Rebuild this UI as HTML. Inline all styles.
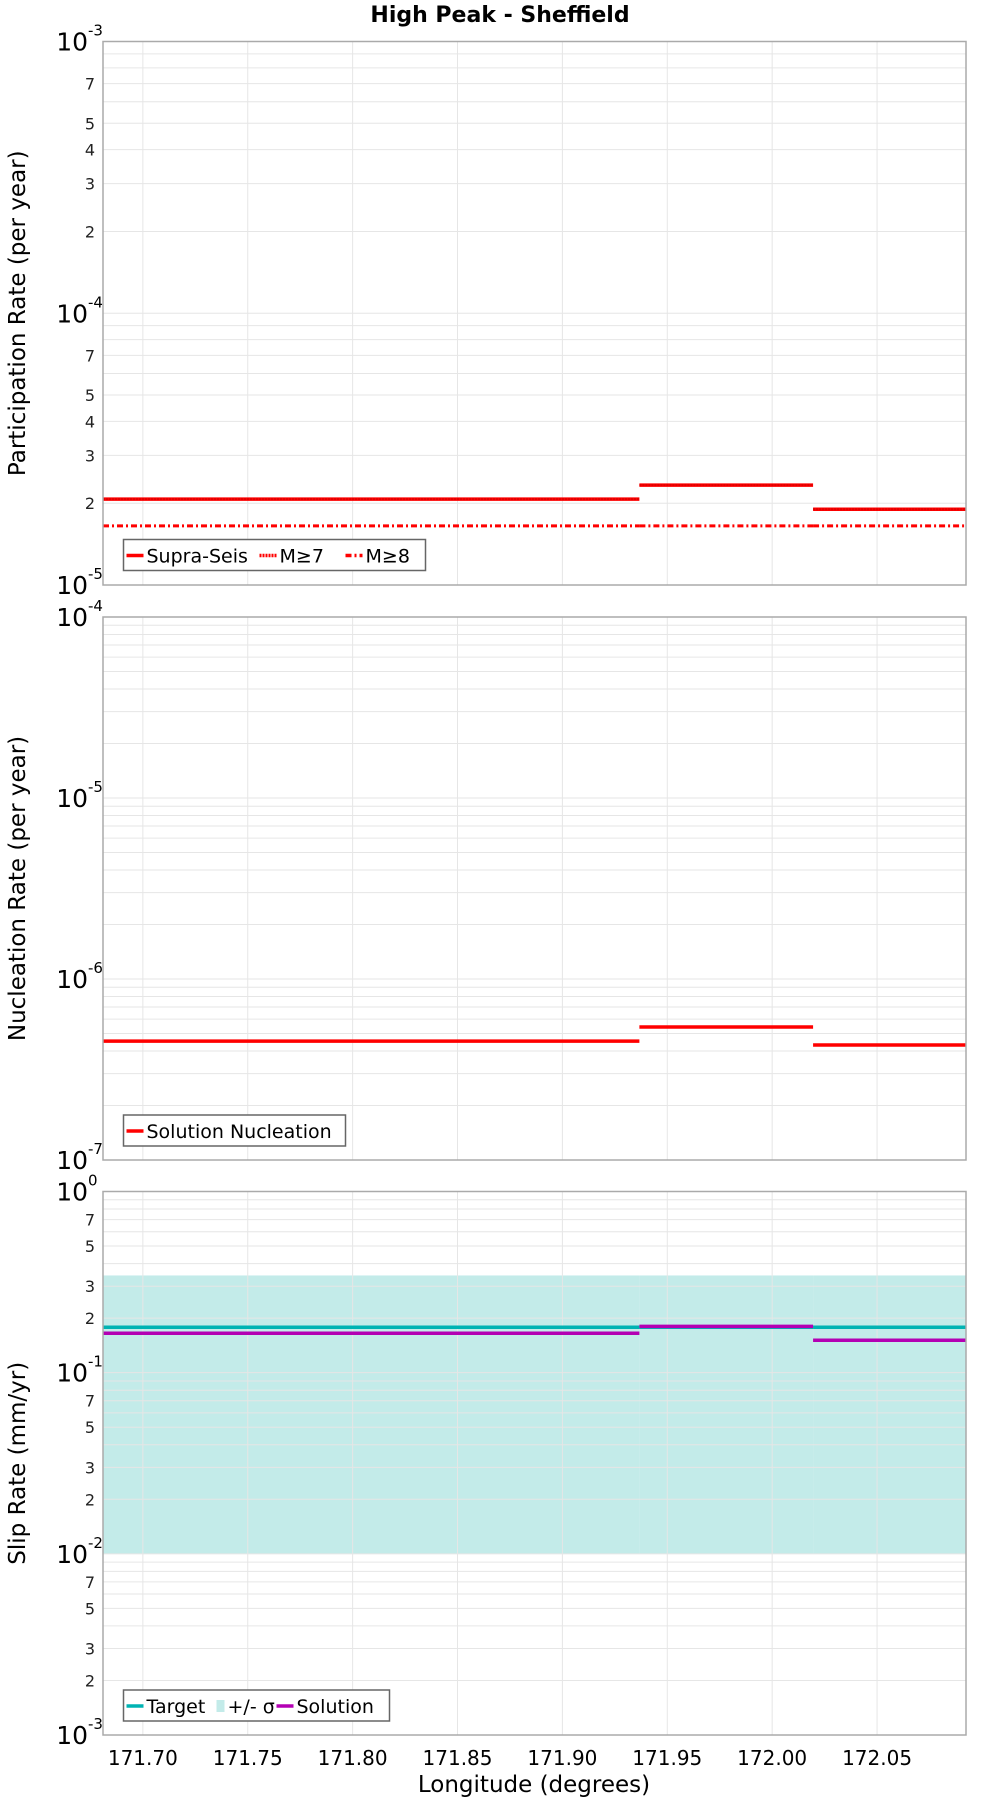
<!DOCTYPE html>
<html><head><meta charset="utf-8"><style>
body{margin:0;background:#fff;}
svg{display:block;font-family:"DejaVu Sans","Liberation Sans",sans-serif;}
</style></head><body>
<svg id="chart" width="1000" height="1800" viewBox="0 0 1000 1800" xmlns="http://www.w3.org/2000/svg">
<text x="500" y="22" text-anchor="middle" font-size="22" font-weight="bold" font-family="DejaVu Sans, sans-serif">High Peak - Sheffield</text>
<text x="534" y="1792" text-anchor="middle" font-size="23">Longitude (degrees)</text>
</svg>
<script>
// ---- data ----
const xTicks = [171.70, 171.75, 171.80, 171.85, 171.90, 171.95, 172.00, 172.05];
const xTickLabels = ["171.70","171.75","171.80","171.85","171.90","171.95","172.00","172.05"];
const segStarts = [171.681, 171.9367, 172.0195];
const segEnds = [171.9367, 172.0195, 172.0924];
const supraSeis = [2.07e-5, 2.33e-5, 1.90e-5];
const m7 = [2.07e-5, 2.33e-5, 1.90e-5];
const m8 = [1.65e-5, 1.65e-5, 1.65e-5];
const nucleation = [4.54e-7, 5.43e-7, 4.32e-7];
const slipTarget = [0.178, 0.178, 0.178];
const slipSolution = [0.165, 0.18, 0.151];
const sigmaLow = [0.01, 0.01, 0.01];
const sigmaHigh = [0.344, 0.344, 0.344];

const svg = document.getElementById('chart');
const NS = 'http://www.w3.org/2000/svg';
const L = 103, R = 966, XMIN = 171.681, XMAX = 172.0924;
function xs(v){ return L + (v - XMIN) / (XMAX - XMIN) * (R - L); }
function mk(tag, attrs, parent){ const e = document.createElementNS(NS, tag); for (const k in attrs) e.setAttribute(k, attrs[k]); (parent||svg).appendChild(e); return e; }

const panels = [
 {name:'participation', top:41.5, bot:585, dMax:-3, dMin:-5, minorLabels:[2,3,4,5,7], title:'Participation Rate (per year)'},
 {name:'nucleation', top:617, bot:1160, dMax:-4, dMin:-7, minorLabels:[], title:'Nucleation Rate (per year)'},
 {name:'slip-rate', top:1191.5, bot:1735, dMax:0, dMin:-3, minorLabels:[2,3,5,7], title:'Slip Rate (mm/yr)'}
];
function ysF(p){ return v => p.top + (p.dMax - Math.log10(v)) / (p.dMax - p.dMin) * (p.bot - p.top); }

panels.forEach((p, pi) => {
  const ys = ysF(p);
  const g = mk('g', {});
  
  
  mk('rect', {x:L, y:p.top, width:R-L, height:p.bot-p.top, fill:'#fff'}, g);
  if (pi === 2) {
    for (let i = 0; i < segStarts.length; i++) {
      const b = mk('rect', {x:xs(segStarts[i]), y:ys(sigmaHigh[i]), width:xs(segEnds[i])-xs(segStarts[i]), height:ys(sigmaLow[i])-ys(sigmaHigh[i]), fill:'#c3ebe9'}, g);
      
      
    }
  }
  for (let d = p.dMin; d < p.dMax; d++) {
    for (let m = 1; m < 10; m++) {
      const v = m * Math.pow(10, d);
      const y = ys(v);
      if (m > 1) mk('line', {x1:L, x2:R, y1:y, y2:y, stroke:'#e6e6e6', 'stroke-width':1}, g);
      if (p.minorLabels.includes(m)) {
        const t = mk('text', {x:95, y:y+6, 'text-anchor':'end', 'font-size':16, fill:'#222'}, g);
        t.textContent = m;
        
        
      }
    }
  }
  for (let d = p.dMin; d <= p.dMax; d++) {
    const y = ys(Math.pow(10, d));
    mk('line', {x1:L, x2:R, y1:y, y2:y, stroke:'#e6e6e6', 'stroke-width':1}, g);
    const t = mk('text', {x:88, y:y+9, 'text-anchor':'end', 'font-size':25}, g);
    t.textContent = '10';
    
    
    const s = mk('text', {x:88, y:y-6, 'font-size':15}, g);
    s.textContent = String(d);
    
    
  }
  xTicks.forEach(v => mk('line', {x1:xs(v), x2:xs(v), y1:p.top, y2:p.bot, stroke:'#e6e6e6', 'stroke-width':1}, g));
  const cy = (p.top + p.bot) / 2;
  const at = mk('text', {x:0, y:0, transform:`translate(25,${cy}) rotate(-90)`, 'text-anchor':'middle', 'font-size':23}, g);
  at.textContent = p.title;
  
  
});

function drawSeg(p, vals, color, dash, name, width){
  const ys = ysF(p);
  for (let i = 0; i < vals.length; i++) {
    const a = {x1:xs(segStarts[i]), x2:xs(segEnds[i]), y1:ys(vals[i]), y2:ys(vals[i]), stroke:color, 'stroke-width':width||3.5};
    if (dash) a['stroke-dasharray'] = dash;
    const l = mk('line', a);
    
    
  }
}
drawSeg(panels[0], supraSeis, '#ff0000', null, 'supra-seis');
drawSeg(panels[0], m7, '#e00000', '2,1', 'm7', 2);
drawSeg(panels[0], m8, '#ff0000', '6,3,2,3', 'm8', 3);
drawSeg(panels[1], nucleation, '#ff0000', null, 'solution-nucleation');
drawSeg(panels[2], slipTarget, '#00b3b3', null, 'target');
drawSeg(panels[2], slipSolution, '#b300b3', null, 'solution');

panels.forEach(p => mk('rect', {x:L, y:p.top, width:R-L, height:p.bot-p.top, fill:'none', stroke:'#aaa', 'stroke-width':1.5}));

xTicks.forEach((v, i) => {
  const t = mk('text', {x:xs(v), y:1765, 'text-anchor':'middle', 'font-size':20});
  t.textContent = xTickLabels[i];
  
  
});

function legend(x, y, w, items, name){
  const g = mk('g', {});
  
  
  mk('rect', {x:x, y:y, width:w, height:31, fill:'#fff', stroke:'#666', 'stroke-width':1.5}, g);
  let cx = x + 3;
  items.forEach(it => {
    if (it.rect) mk('rect', {x:cx+2, y:y+10, width:8, height:12, fill:it.color}, g);
    else {
      const a = {x1:cx, x2:cx+17, y1:y+16, y2:y+16, stroke:it.color, 'stroke-width':3.5};
      if (it.dash) a['stroke-dasharray'] = it.dash;
      mk('line', a, g);
    }
    const t = mk('text', {x:cx + (it.rect?13:20), y:y+23, 'font-size':19}, g);
    t.textContent = it.label;
    
    
    cx += it.w;
  });
}
legend(123.5, 539.5, 302, [{label:'Supra-Seis', color:'#ff0000', w:133},{label:'M≥7', color:'#ff0000', dash:'2,1', w:86},{label:'M≥8', color:'#ff0000', dash:'6,3,2,3', w:80}], 'participation-legend');
legend(123.5, 1115, 222, [{label:'Solution Nucleation', color:'#ff0000', w:220}], 'nucleation-legend');
legend(123.5, 1690, 266, [{label:'Target', color:'#00b3b3', w:88},{label:'+/- σ', color:'#c3ebe9', rect:true, w:62},{label:'Solution', color:'#b300b3', w:110}], 'slip-legend');
</script>
</body></html>
